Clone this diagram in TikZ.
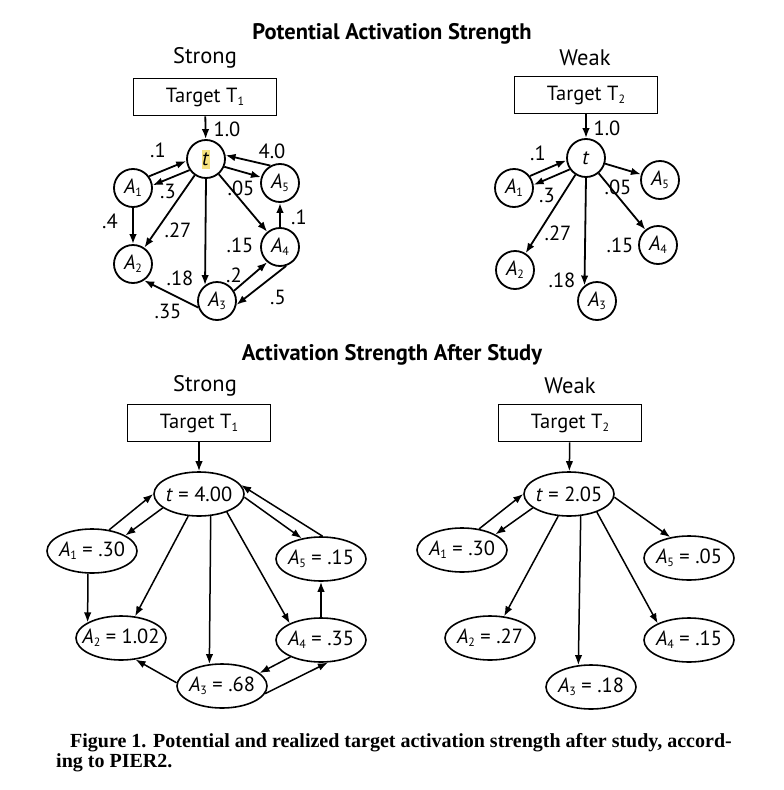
\documentclass[tikz,border=0pt]{standalone}
\usepackage{fontspec}
\setmainfont{PT Sans}
\newfontfamily\capfont[FakeStretch=1.0]{Liberation Serif}
\usepackage{xcolor}
\usetikzlibrary{arrows.meta,shapes.geometric}
\definecolor{marker}{HTML}{F6E27F}
\newcommand\sub[1]{\raisebox{-0.3ex}{\fontsize{12}{12}\selectfont #1}}

\begin{document}
\begin{tikzpicture}[x=1pt, y=-1pt,
    every node/.style={font=\fontsize{20.5}{22}\selectfont, inner sep=0pt},
    title/.style={font=\fontsize{22.5}{24}\selectfont\bfseries},
    head/.style={font=\fontsize{22.5}{24}\selectfont},
    target/.style={draw, line width=1.7pt, minimum width=143pt, minimum height=37pt},
    unit/.style={draw, circle, line width=1.8pt, minimum size=38pt},
    oval/.style={draw, ellipse, line width=1.6pt, inner xsep=-7pt, minimum width=90pt, minimum height=44pt},
    arrow/.style={-{Latex[length=10pt,width=7.5pt]}, line width=1.8pt},
    slim/.style={-{Latex[length=10pt,width=7.5pt]}, line width=1.5pt}
  ]
  \useasboundingbox (0,0) rectangle (784,790);

  % potential strength
  \node[title] (pot) at (392,34) {Potential Activation Strength};

  \node[head] (s-head) at (205,58) {Strong};
  \node[target] (s-T) at (205,97) {Target T\sub{1}};
  \node[unit] (s-t) at (206,159) {\colorbox{marker}{\kern-2.5pt\textit{t}\kern-2pt}};
  \node[unit] (s-A1) at (133,188) {\textit{A}\sub{1}};
  \node[unit] (s-A5) at (280,183) {\textit{A}\sub{5}};
  \node[unit] (s-A4) at (280,247) {\textit{A}\sub{4}};
  \node[unit] (s-A2) at (133,264) {\textit{A}\sub{2}};
  \node[unit] (s-A3) at (217,301) {\textit{A}\sub{3}};

  \draw[arrow] (s-T) -- (s-t);
  \draw[arrow] (s-A1.36) -- (s-t.186);
  \draw[arrow] (s-t.214) -- (s-A1.8);
  \draw[arrow] (s-t.-23) -- (s-A5.163);
  \draw[arrow] (s-A5.119) -- (s-t.11);
  \draw[arrow] (s-A1) -- (s-A2);
  \draw[arrow] (s-t) -- (s-A2);
  \draw[arrow] (s-t.south) -- (s-A3.127);
  \draw[arrow] (s-t) -- (s-A4);
  \draw[arrow] (s-A4) -- (s-A5);
  \draw[arrow] (s-A3.31) -- (s-A4.230);
  \draw[arrow] (s-A4.288) -- (s-A3.-11);
  \draw[arrow] (s-A3.199) -- (s-A2.304);

  \node (s-w0) at (227,129) {1.0};
  \node (s-w1) at (158,150) {.1};
  \node (s-w2) at (168,191) {.3};
  \node (s-w3) at (241,188) {.05};
  \node (s-w4) at (272,151) {4.0};
  \node (s-w5) at (299,217) {.1};
  \node (s-w6) at (110,221) {.4};
  \node (s-w7) at (178,230) {.27};
  \node (s-w8) at (240,245) {.15};
  \node (s-w9) at (180,278) {.18};
  \node (s-w10) at (234,275) {.2};
  \node (s-w11) at (278,297) {.5};
  \node (s-w12) at (168,311) {.35};

  \node[head] (w-head) at (585,58) {Weak};
  \node[target] (w-T) at (586,95) {Target T\sub{2}};
  \node[unit] (w-t) at (586,158) {\textit{t}};
  \node[unit] (w-A1) at (514,188) {\textit{A}\sub{1}};
  \node[unit] (w-A5) at (660,180) {\textit{A}\sub{5}};
  \node[unit] (w-A4) at (658,245) {\textit{A}\sub{4}};
  \node[unit] (w-A2) at (515,270) {\textit{A}\sub{2}};
  \node[unit] (w-A3) at (597,301) {\textit{A}\sub{3}};

  \draw[arrow] (w-T) -- (w-t);
  \draw[arrow] (w-A1.37) -- (w-t.187);
  \draw[arrow] (w-t.215) -- (w-A1.9);
  \draw[arrow] (w-t) -- (w-A5);
  \draw[arrow] (w-t) -- (w-A4);
  \draw[arrow] (w-t.south) -- (w-A3.129);
  \draw[arrow] (w-t) -- (w-A2);

  \node (w-w0) at (607,128) {1.0};
  \node (w-w1) at (538,153) {.1};
  \node (w-w2) at (547,195) {.3};
  \node (w-w3) at (618,187) {.05};
  \node (w-w4) at (558,233) {.27};
  \node (w-w5) at (620,245) {.15};
  \node (w-w6) at (562,280) {.18};

  % after study
  \node[title] (after) at (392,355) {Activation Strength After Study};

  \node[head] (as-head) at (205,386) {Strong};
  \node[target] (as-T) at (199,423) {Target T\sub{1}};
  \node[oval] (as-t) at (199,494) {\textit{t} = 4.00};
  \node[oval] (as-A1) at (92,551) {\textit{A}\sub{1} = .30};
  \node[oval] (as-A5) at (321,559) {\textit{A}\sub{5} = .15};
  \node[oval] (as-A2) at (121,638) {\textit{A}\sub{2} = 1.02};
  \node[oval] (as-A4) at (321,640) {\textit{A}\sub{4} = .35};
  \node[oval] (as-A3) at (222,686) {\textit{A}\sub{3} = .68};

  \draw[slim] (as-T) -- (as-t);
  \draw[slim] (as-A1.51) -- (as-t.180);
  \draw[slim] (as-t.201) -- (as-A1.25);
  \draw[slim] (as-t.-4) -- (as-A5.133);
  \draw[slim] (as-A5.86) -- (as-t.12);
  \draw[slim] (as-A1.260) -- (as-A2.155);
  \draw[slim] (as-t.244) -- (as-A2.57);
  \draw[slim] (as-t.-62) -- (as-A3.120);
  \draw[slim] (as-t.-33) -- (as-A4.152);
  \draw[slim] (as-A4) -- (as-A5);
  \draw[slim] (as-A4.209) -- (as-A3.19);
  \draw[slim] (as-A3.-10) -- (as-A4.-73);
  \draw[slim] (as-A3.176) -- (as-A2.-56);

  \node[head] (aw-head) at (570,386) {Weak};
  \node[target] (aw-T) at (570,423) {Target T\sub{2}};
  \node[oval] (aw-t) at (569,494) {\textit{t} = 2.05};
  \node[oval] (aw-A1) at (462,550) {\textit{A}\sub{1} = .30};
  \node[oval] (aw-A5) at (689,558) {\textit{A}\sub{5} = .05};
  \node[oval] (aw-A2) at (490,638) {\textit{A}\sub{2} = .27};
  \node[oval] (aw-A4) at (689,640) {\textit{A}\sub{4} = .15};
  \node[oval] (aw-A3) at (591,687) {\textit{A}\sub{3} = .18};

  \draw[slim] (aw-T) -- (aw-t);
  \draw[slim] (aw-A1.51) -- (aw-t.180);
  \draw[slim] (aw-t.201) -- (aw-A1.25);
  \draw[slim] (aw-t.-4) -- (aw-A5.132);
  \draw[slim] (aw-t.244) -- (aw-A2.57);
  \draw[slim] (aw-t.-62) -- (aw-A3.120);
  \draw[slim] (aw-t.-33) -- (aw-A4.152);

  % caption
  \node[anchor=base west, font=\capfont\bfseries\fontsize{20}{20}\selectfont] (cap1) at (70,747)
    {Figure 1. Potential and realized target activation strength after study, accord-};
  \node[anchor=base west, font=\capfont\bfseries\fontsize{20}{20}\selectfont] (cap2) at (56,767)
    {ing to PIER2.};
\end{tikzpicture}
\end{document}
